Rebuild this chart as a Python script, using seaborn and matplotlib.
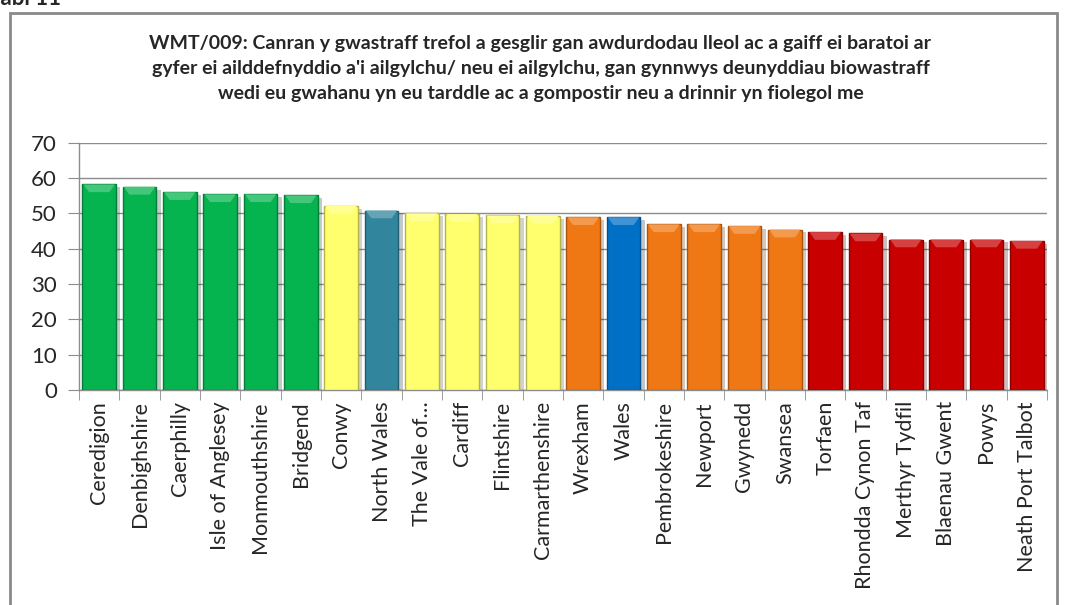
import matplotlib
matplotlib.use("Agg")
import matplotlib.pyplot as plt
import matplotlib.patheffects as pe
from matplotlib.patches import Polygon, Rectangle
import matplotlib.colors as mcolors
import seaborn as sns
import pandas as pd

# values (%)
areas = ["Ceredigion", "Denbighshire", "Caerphilly", "Isle of Anglesey", "Monmouthshire",
         "Bridgend", "Conwy", "North Wales", "The Vale of…", "Cardiff", "Flintshire",
         "Carmarthenshire", "Wrexham", "Wales", "Pembrokeshire", "Newport", "Gwynedd",
         "Swansea", "Torfaen", "Rhondda Cynon Taf", "Merthyr Tydfil", "Blaenau Gwent",
         "Powys", "Neath Port Talbot"]
pct = [58.2, 57.5, 56.0, 55.4, 55.4, 55.1, 52.1, 50.8, 50.0, 49.8, 49.4, 49.3,
       48.9, 48.9, 46.9, 46.9, 46.4, 45.4, 44.7, 44.3, 42.6, 42.6, 42.6, 42.2]

GREEN, YELLOW, TEAL, ORANGE, BLUE, RED = "#05B34F", "#FFFF6E", "#31859C", "#F07814", "#0070C6", "#C80000"
bar_colors = [GREEN] * 6 + [YELLOW, TEAL] + [YELLOW] * 4 + [ORANGE, BLUE] + [ORANGE] * 4 + [RED] * 6

title = ("WMT/009: Canran y gwastraff trefol a gesglir gan awdurdodau lleol ac a gaiff ei baratoi ar\n"
         "gyfer ei ailddefnyddio a'i ailgylchu/ neu ei ailgylchu, gan gynnwys deunyddiau biowastraff\n"
         "wedi eu gwahanu yn eu tarddle ac a gompostir neu a drinnir yn fiolegol me")

df = pd.DataFrame({"area": areas, "pct": pct})

sns.set_style("white")
plt.rcParams["font.family"] = ["Lato", "DejaVu Sans"]

fig = plt.figure(figsize=(10.66, 6.05), dpi=100)
ax = fig.add_axes([79 / 1066, 1 - 390 / 605, (1047 - 79) / 1066, (390 - 142.7) / 605])

sns.barplot(data=df, x="area", y="pct", hue="area", palette=bar_colors, legend=False,
            width=0.84, saturation=1, ax=ax, zorder=3)

# bevelled look: darker edge, light cap on top, soft shadow
for patch, c in zip(ax.patches, bar_colors):
    rgb = mcolors.to_rgb(c)
    dark = tuple(v * 0.7 for v in rgb)
    light = tuple(v + (1 - v) * 0.25 for v in rgb)
    patch.set_edgecolor(dark)
    patch.set_linewidth(1.0)
    patch.set_path_effects([pe.SimplePatchShadow(offset=(3, -2), alpha=0.25), pe.Normal()])
    x0 = patch.get_x()
    w = patch.get_width()
    h = patch.get_height()
    cap = Polygon([(x0 + 0.03, h), (x0 + w - 0.03, h), (x0 + w * 0.8, h - 2.2), (x0 + w * 0.2, h - 2.2)],
                  closed=True, facecolor=light, edgecolor="none", zorder=4)
    ax.add_patch(cap)

ax.set_ylim(0, 70)
ax.set_xlim(-0.5, len(areas) - 0.5)
ax.set_yticks(range(0, 71, 10))
ax.yaxis.grid(True, color="#8c8c8c", linewidth=1.0, zorder=0)
ax.set_axisbelow(True)
for s in ["top", "right"]:
    ax.spines[s].set_visible(False)
for s in ["left", "bottom"]:
    ax.spines[s].set_color("#8c8c8c")
    ax.spines[s].set_linewidth(1.0)

ax.set_xlabel("")
ax.set_ylabel("")
ax.tick_params(axis="y", direction="out", length=8, color="#8c8c8c", labelsize=16, pad=8, left=True)
ax.set_xticks(range(len(areas)))
ax.set_xticklabels(areas, rotation=90, fontsize=15.5)
ax.tick_params(axis="x", which="major", length=0, pad=8)
ax.set_xticks([i - 0.5 for i in range(len(areas) + 1)], minor=True)
ax.tick_params(axis="x", which="minor", direction="out", length=7, color="#8c8c8c", bottom=True)

fig.text(0.507, 1 - 35 / 605, title, ha="center", va="top", fontsize=14,
         fontweight="bold", linespacing=1.58)

# outer frame of the pasted chart and the clipped caption above it
frame = Rectangle((10 / 1066, -0.05), (1057 - 10) / 1066, 1.05 - 13 / 605, transform=fig.transFigure,
                  facecolor="none", edgecolor="#8a8a8a", linewidth=2, zorder=0)
fig.patches.append(frame)
fig.text(-0.012, 1 - 5 / 605, "Tabl 11", ha="left", va="baseline", fontsize=16, fontweight="bold")

fig.savefig("out.png", dpi=100)
